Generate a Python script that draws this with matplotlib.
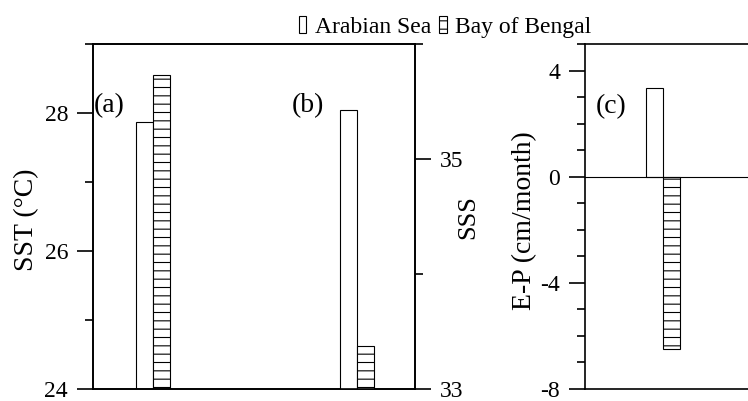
import matplotlib
matplotlib.use("Agg")
import matplotlib.pyplot as plt
from matplotlib.patches import Patch
from matplotlib.ticker import MultipleLocator, FixedLocator

plt.rcParams['font.family'] = ['Liberation Serif', 'DejaVu Serif']
plt.rcParams['font.size'] = 17
plt.rcParams['hatch.linewidth'] = 0.8
plt.rcParams['axes.unicode_minus'] = False

# data
regions = ["Arabian Sea", "Bay of Bengal"]
sst = [27.87, 28.55]     # (a) SST, deg C
sss = [35.43, 33.37]     # (b) SSS
ep = [3.33, -6.5]        # (c) E-P, cm/month

W, H = 748, 401
fig = plt.figure(figsize=(W / 100, H / 100), dpi=100)

def px(x0, y0, x1, y1):
    return [x0 / W, 1 - y1 / H, (x1 - x0) / W, (y1 - y0) / H]

hatches = [None, "--"]
bw = 0.0833
lw = 1.2

def style(ax):
    for s in ax.spines.values():
        s.set_linewidth(lw)
    ax.tick_params(which="major", length=11.5, width=lw, pad=6.5)
    ax.tick_params(which="minor", length=5.8, width=lw)
    ax.tick_params(axis="x", which="both", bottom=False, labelbottom=False)

# panels (a) and (b) share one frame
ax1 = fig.add_axes(px(93, 44, 415, 389))
ax2 = ax1.twinx()
for i in range(2):
    ax1.bar(0 - bw + i * bw, sst[i], width=bw, align="edge", color="white",
            edgecolor="black", linewidth=0.8, hatch=hatches[i])
    ax2.bar(1 - bw + i * bw, sss[i], width=bw, align="edge", color="white",
            edgecolor="black", linewidth=0.8, hatch=hatches[i])
ax1.set_xlim(-0.294, 1.284)
ax1.set_ylim(24, 29)
ax1.yaxis.set_major_locator(FixedLocator([24, 26, 28]))
ax1.yaxis.set_minor_locator(MultipleLocator(1))
ax2.set_ylim(33, 36)
ax2.yaxis.set_major_locator(FixedLocator([33, 35]))
ax2.yaxis.set_minor_locator(MultipleLocator(1))
style(ax1)
style(ax2)

# panel (c), right edge runs off the figure
ax3 = fig.add_axes(px(585, 44, 860, 389))
for i in range(2):
    ax3.bar(0 - bw + i * bw, ep[i], width=bw, align="edge", color="white",
            edgecolor="black", linewidth=0.8, hatch=hatches[i])
ax3.axhline(0, color="black", linewidth=0.8)
ax3.set_xlim(-78 / 204, 197 / 204)
ax3.set_ylim(-8, 5)
ax3.yaxis.set_major_locator(FixedLocator([-8, -4, 0, 4]))
ax3.yaxis.set_minor_locator(MultipleLocator(1))
style(ax3)

# axis titles and panel tags
fig.text(27 / W, 1 - 220 / H, "SST (°C)", rotation=90, ha="center", va="center", fontsize=20)
fig.text(468 / W, 1 - 217 / H, "SSS", rotation=90, ha="center", va="center", fontsize=19)
fig.text(525 / W, 1 - 221 / H, "E-P (cm/month)", rotation=90, ha="center", va="center", fontsize=20)
fig.text(94 / W, 1 - 106 / H, "(a)", ha="left", va="center", fontsize=20)
fig.text(292 / W, 1 - 106 / H, "(b)", ha="left", va="center", fontsize=20)
fig.text(596 / W, 1 - 107 / H, "(c)", ha="left", va="center", fontsize=20)

handles = [Patch(facecolor="white", edgecolor="black", linewidth=0.8, hatch=h)
           for h in hatches]
fig.legend(handles, regions, loc="center", bbox_to_anchor=(445 / W, 1 - 27 / H),
           ncol=2, frameon=False, borderpad=0, handlelength=0.32,
           handleheight=0.73, handletextpad=0.35, columnspacing=0.35)

fig.savefig("out.png", dpi=100)
